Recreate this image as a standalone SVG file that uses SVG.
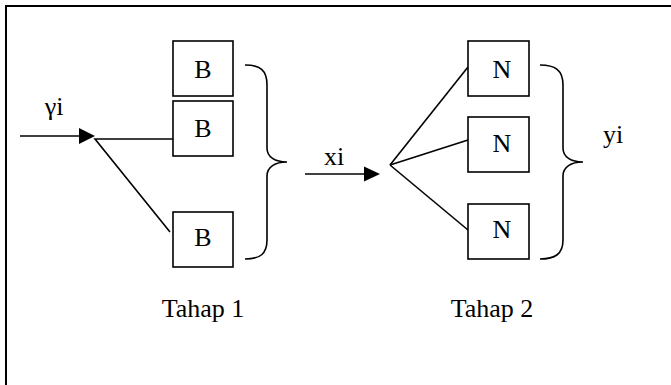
<svg xmlns="http://www.w3.org/2000/svg" width="671" height="385" viewBox="0 0 671 385">
<style>
.box{fill:#fff;stroke:#000;stroke-width:1.6}
.ln{fill:none;stroke:#000;stroke-width:1.6}
.t{font-family:"Liberation Serif","Times New Roman",serif;font-size:26px;fill:#000;text-anchor:middle}
</style>
<rect width="671" height="385" fill="#fff"/>
<rect x="6" y="6" width="700" height="420" fill="none" stroke="#000" stroke-width="2"/>
<g id="connectors">
<line class="ln" x1="20" y1="136" x2="82" y2="136"/>
<polygon points="79,128 95,136 79,144" fill="#000"/>
<polyline class="ln" points="173,139 95,139 170,232"/>
<line class="ln" x1="305" y1="174" x2="366" y2="174"/>
<polygon points="364,166.5 380,174 364,181.5" fill="#000"/>
<line class="ln" x1="390" y1="165" x2="468" y2="67"/>
<line class="ln" x1="390" y1="165" x2="468" y2="140"/>
<line class="ln" x1="390" y1="165" x2="468" y2="230"/>
<path class="ln" d="M245,65 C260,65 267,70 267,85 L267,148 C267,157 275,162 287,162 C275,162 267,167 267,176 L267,240 C267,254 260,259 245,259"/>
<path class="ln" d="M540,65 C555,65 563,70 563,85 L563,148 C563,157 571,162 583,162 C571,162 563,167 563,176 L563,240 C563,254 555,259 540,259"/>
</g>
<g id="b1"><rect class="box" x="173" y="41" width="60" height="55"/><text class="t" x="203" y="78">B</text></g>
<g id="b2"><rect class="box" x="173" y="101" width="60" height="55"/><text class="t" x="203" y="137">B</text></g>
<g id="b3"><rect class="box" x="173" y="212" width="60" height="55"/><text class="t" x="203" y="246">B</text></g>
<g id="n1"><rect class="box" x="468" y="41" width="61" height="55"/><text class="t" x="502" y="78">N</text></g>
<g id="n2"><rect class="box" x="468" y="117" width="61" height="55"/><text class="t" x="502" y="152">N</text></g>
<g id="n3"><rect class="box" x="468" y="204" width="61" height="55"/><text class="t" x="502" y="238">N</text></g>
<g id="labels">
<text class="t" x="54" y="115">γi</text>
<text class="t" x="334" y="165">xi</text>
<text class="t" x="613" y="143">yi</text>
<text class="t" x="203" y="317">Tahap 1</text>
<text class="t" x="492" y="317">Tahap 2</text>
</g>
</svg>
